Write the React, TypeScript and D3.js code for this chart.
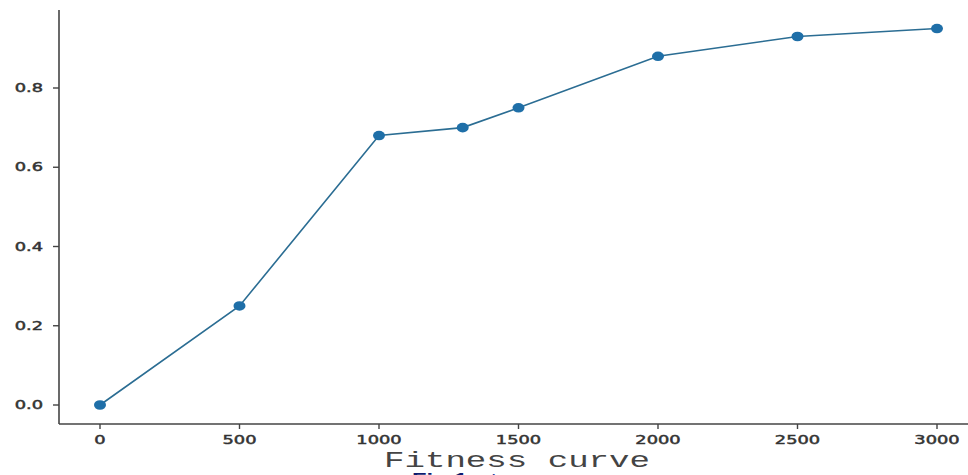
import React from "react";
import * as d3 from "d3";

const iterations = [0, 500, 1000, 1300, 1500, 2000, 2500, 3000];
const fitness = [0.0, 0.25, 0.68, 0.7, 0.75, 0.88, 0.93, 0.95];
const xTicks = [0, 500, 1000, 1500, 2000, 2500, 3000];
const yTicks = [0.0, 0.2, 0.4, 0.6, 0.8];
const xLabel = "Fitness curve";
const captionBold = "Fig 1.";
const captionRest = " Fitness curve";

const SX = 1.55;

function Stretched({ x, y, anchor, size, fill, family, weight, children, dy, stroke }: any) {
  return (
    <g transform={`translate(${x},${y}) scale(${SX},1)`}>
      <text x={0} y={0} dy={dy} textAnchor={anchor} fontFamily={family} fontSize={size} fill={fill}
        fontWeight={weight} stroke={stroke ? fill : "none"} strokeWidth={stroke || 0}>
        {children}
      </text>
    </g>
  );
}

export default function App() {
  const W = 968, H = 475;
  const axisX = 59, axisY = 424, topY = 10;
  const x = d3.scaleLinear().domain([0, 3000]).range([100, 937]);
  const y = d3.scaleLinear().domain([0, 0.8]).range([405, 88]);
  const line = d3.line<number>().x((_, i) => x(iterations[i])).y((d) => y(d));
  const pts = fitness.map((v, i) => ({ x: x(iterations[i]), y: y(v) }));
  return (
    <svg width={W} height={H} style={{ position: "fixed", left: 0, top: 0, background: "#fff" }}>
      <rect width={W} height={H} fill="#fff" />
      <line x1={axisX} x2={axisX} y1={topY} y2={axisY} stroke="#444" strokeWidth={1.6} />
      <line x1={axisX} x2={W} y1={axisY} y2={axisY} stroke="#444" strokeWidth={1.6} />
      {yTicks.map((t) => (
        <g key={t}>
          <line x1={axisX - 6} x2={axisX} y1={y(t)} y2={y(t)} stroke="#444" strokeWidth={1.4} />
          <Stretched x={43} y={y(t)} dy="0.36em" anchor="end" size={11.5} fill="#333" family="DejaVu Sans" weight={400} stroke={0.45}>
            {t.toFixed(1)}
          </Stretched>
        </g>
      ))}
      {xTicks.map((t) => (
        <g key={t}>
          <line x1={x(t)} x2={x(t)} y1={axisY} y2={axisY + 5} stroke="#444" strokeWidth={1.4} />
          <Stretched x={x(t)} y={439.5} dy="0.36em" anchor="middle" size={11.5} fill="#333" family="DejaVu Sans" weight={400} stroke={0.45}>
            {t}
          </Stretched>
        </g>
      ))}
      <path d={line(fitness) || ""} fill="none" stroke="#2b6d93" strokeWidth={1.6} />
      {pts.map((p, i) => (
        <ellipse key={i} cx={p.x} cy={p.y} rx={6} ry={4.8} fill="#1f6fa8" />
      ))}
      <Stretched x={517} y={467} anchor="middle" size={22} fill="#444" family="'Liberation Mono', 'Courier New', monospace" weight={400}>
        {xLabel}
      </Stretched>
      <g transform="translate(412,485) scale(1.4,1)">
        <text x={0} y={0} fontFamily="'Liberation Sans', Arial, sans-serif" fontSize={17} fill="#0d1b6e">
          <tspan fontWeight="bold">{captionBold}</tspan>
          <tspan fill="#2b3fa0" fontSize={14}>{captionRest}</tspan>
        </text>
      </g>
    </svg>
  );
}
